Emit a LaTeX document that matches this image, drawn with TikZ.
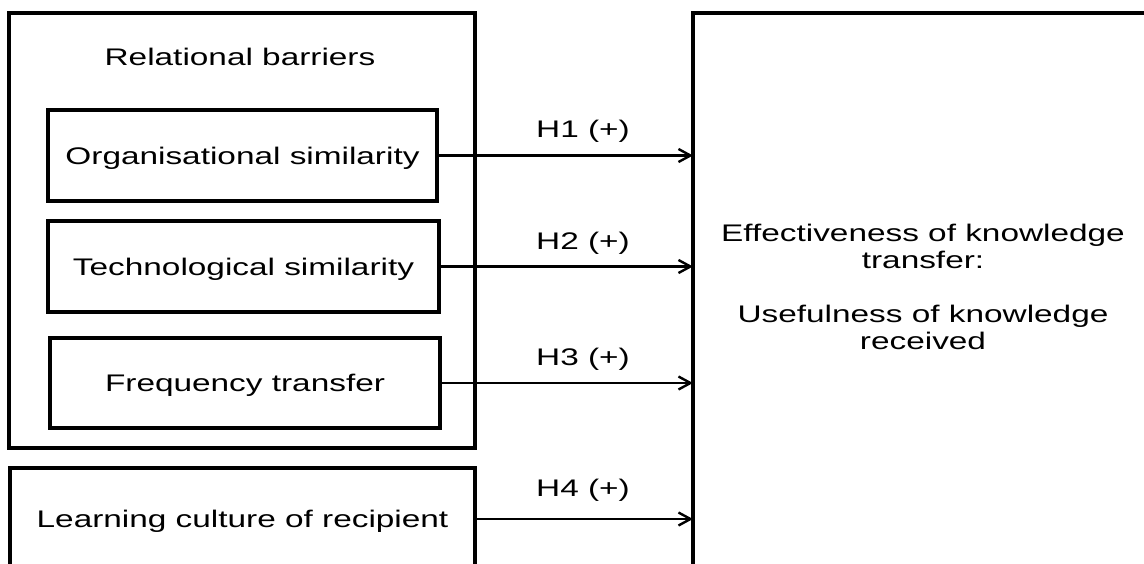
\documentclass[tikz,border=0pt]{standalone}
\usepackage{fontspec}
\setmainfont{Liberation Sans}[FakeStretch=1.39]
\usetikzlibrary{arrows.meta}
\begin{document}
\begin{tikzpicture}[x=1pt,y=-1pt,
  every node/.style={font=\fontsize{24pt}{27pt}\selectfont, inner sep=0pt, outer sep=0pt},
  box/.style={draw=black, line width=3.2pt, fill=none},
  txt/.style={text height=17.2pt, text depth=0pt},
  arr/.style={line width=2.4pt, -{Straight Barb[length=12pt,width=13pt,line width=2.4pt]}},
  lab/.style={text height=17.2pt, text depth=0pt}]
\useasboundingbox (0,0) rectangle (1144,563);
\clip (0,0) rectangle (1144,563);
\fill[white] (0,0) rectangle (1144,563);
% outer group box
\node[box, minimum width=466pt, minimum height=435pt] (rel) at (242,230.5) {};
\node[anchor=base] (reltitle) at (240,65) {Relational barriers};
% inner boxes
\node[box, txt, minimum width=389pt, minimum height=91pt] (org) at (242.5,155.5) {Organisational similarity};
\node[box, txt, minimum width=391pt, minimum height=91pt] (tech) at (243.5,266.5) {Technological similarity};
\node[box, txt, minimum width=390pt, minimum height=90pt] (freq) at (245,383) {Frequency transfer};
% learning culture box
\node[box, txt, minimum width=465pt, minimum height=102pt] (learn) at (242.5,519) {Learning culture of recipient};
% right box
\node[box, minimum width=467pt, minimum height=567pt] (rb) at (926.5,296.5) {};
\node[align=center] (rbt) at (923,287) {Effectiveness of knowledge\\transfer:\\[27pt]Usefulness of knowledge\\received};
% arrows
\draw[arr] (org.east) -- (org.east -| rb.west);
\draw[arr] (tech.east) -- (tech.east -| rb.west);
\draw[arr] (freq.east) -- (freq.east -| rb.west);
\draw[arr] (learn.east) -- (learn.east -| rb.west);
% labels
\node[lab] (h1) at (583,128.5) {H1 (+)};
\node[lab] (h2) at (583,241) {H2 (+)};
\node[lab] (h3) at (583,357) {H3 (+)};
\node[lab] (h4) at (583,488) {H4 (+)};
\end{tikzpicture}
\end{document}
